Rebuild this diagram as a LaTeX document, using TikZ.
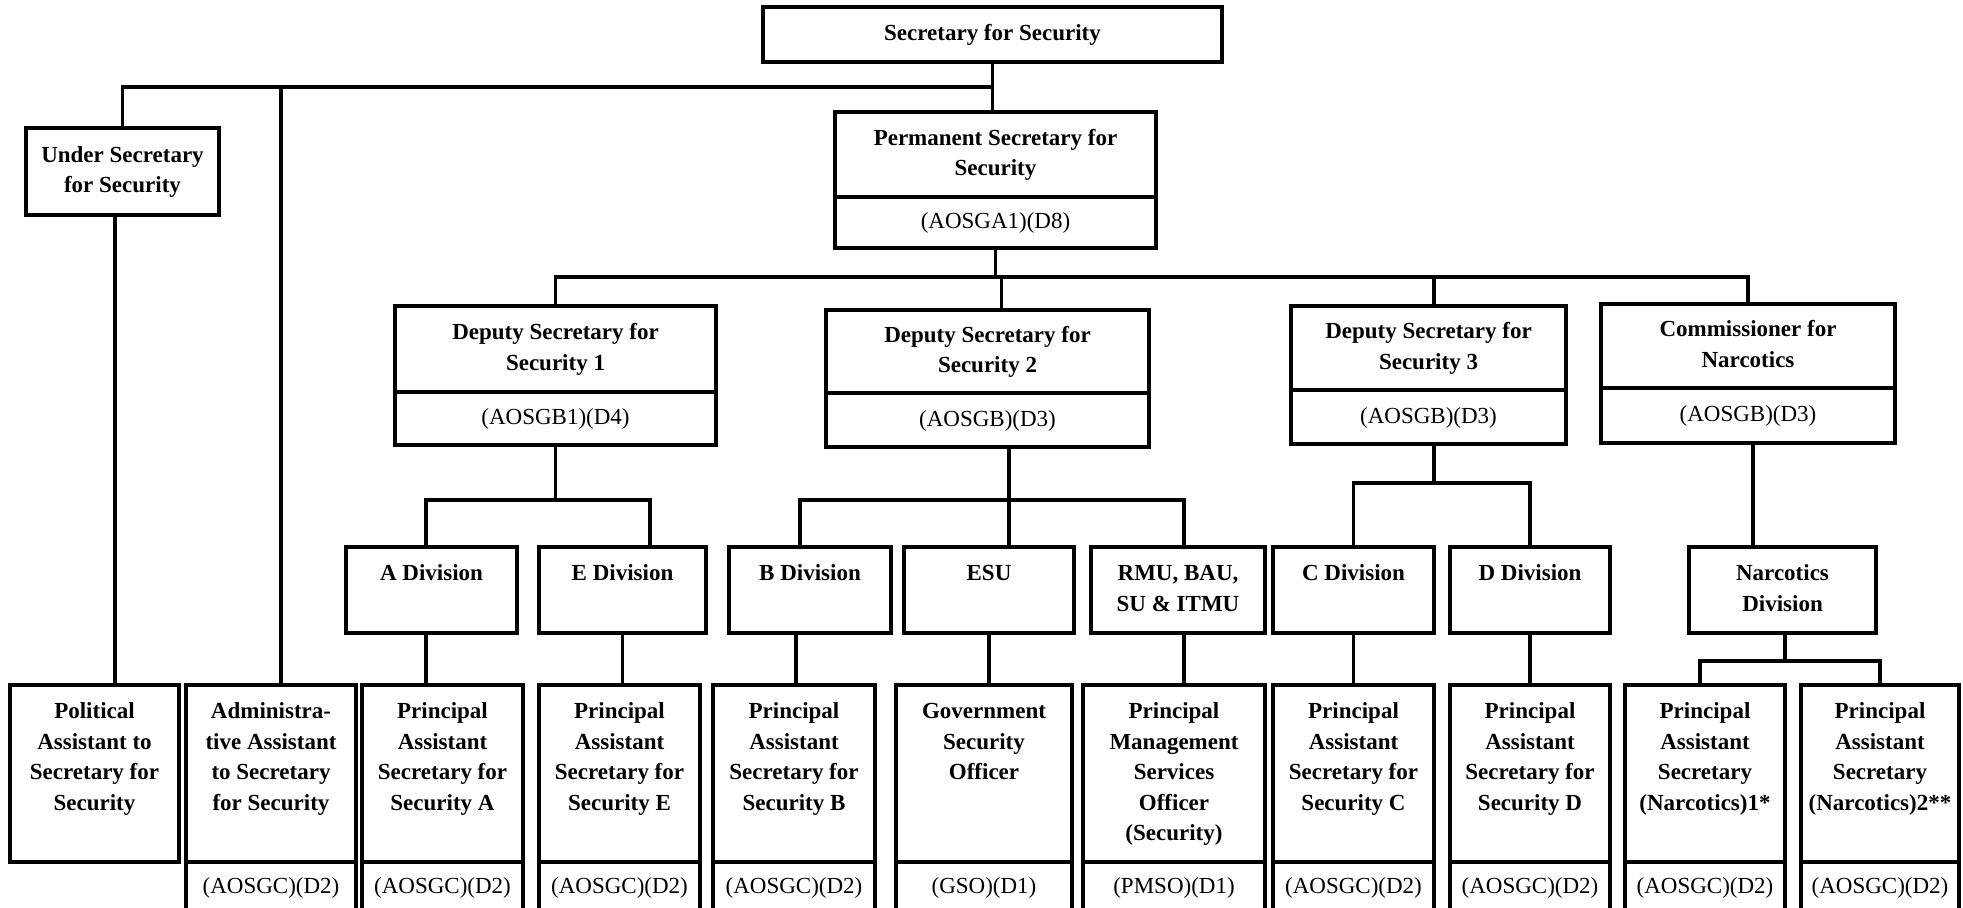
\documentclass[tikz,border=0pt]{standalone}
\usepackage{fontspec}
\setmainfont{Liberation Serif}
\begin{document}
\begin{tikzpicture}[x=0.5pt,y=-0.5pt,
  box/.style={draw, line width=2pt, rectangle, inner sep=0pt, align=center,
    font=\fontsize{11.5}{15.3}\selectfont\bfseries},
  codebox/.style={box, font=\fontsize{11.5}{15.3}\selectfont},
  conn/.style={line width=1.6pt}]
\clip (0,0) rectangle (1963,908);
\fill[white] (0,0) rectangle (1963,908);

% bus levels
\coordinate (yA) at (0,87);
\coordinate (yB) at (0,277);
\coordinate (yC) at (0,500);
\coordinate (yD) at (0,483);
\coordinate (yE) at (0,661);

% top
\node[box, minimum width=229.5pt, minimum height=27.5pt] (sec) at (992.5,34.5) {\strut Secretary for Security};
\node[box, minimum width=96.5pt, minimum height=43.5pt] (us) at (122.5,171.5) {\strut Under Secretary\\for Security\strut};
\node[box, minimum width=160.5pt, minimum height=42.5pt] (ps) at (995.5,154.5) {\strut Permanent Secretary for\\Security\strut};
\node[codebox, minimum width=160.5pt, minimum height=25.5pt] (psc) at (995.5,222.5) {\strut(AOSGA1)(D8)};

% second row
\node[box, minimum width=160.5pt, minimum height=43pt] (ds1) at (555.5,349) {\strut Deputy Secretary for\\Security 1\strut};
\node[codebox, minimum width=160.5pt, minimum height=26.5pt] (ds1c) at (555.5,418.5) {\strut(AOSGB1)(D4)};
\node[box, minimum width=161.5pt, minimum height=41.5pt] (ds2) at (987.5,351.5) {\strut Deputy Secretary for\\Security 2\strut};
\node[codebox, minimum width=161.5pt, minimum height=27pt] (ds2c) at (987.5,420) {\strut(AOSGB)(D3)};
\node[box, minimum width=137.5pt, minimum height=42pt] (ds3) at (1428.5,348) {\strut Deputy Secretary for\\Security 3\strut};
\node[codebox, minimum width=137.5pt, minimum height=27pt] (ds3c) at (1428.5,417) {\strut(AOSGB)(D3)};
\node[box, minimum width=147pt, minimum height=42pt] (com) at (1748,346) {\strut Commissioner for\\Narcotics\strut};
\node[codebox, minimum width=147pt, minimum height=27.5pt] (comc) at (1748,415.5) {\strut(AOSGB)(D3)};

% divisions
\node[box, minimum width=85.5pt, minimum height=43pt] (adiv) at (431.5,590) {\strut A Division\\\strut};
\node[box, minimum width=83.5pt, minimum height=43pt] (ediv) at (622.5,590) {\strut E Division\\\strut};
\node[box, minimum width=81pt, minimum height=43pt] (bdiv) at (810,590) {\strut B Division\\\strut};
\node[box, minimum width=85pt, minimum height=43pt] (esu) at (989,590) {\strut ESU\\\strut};
\node[box, minimum width=87pt, minimum height=43pt] (rmu) at (1178,590) {\strut RMU, BAU,\\SU \& ITMU\strut};
\node[box, minimum width=80.5pt, minimum height=43pt] (cdiv) at (1353.5,590) {\strut C Division\\\strut};
\node[box, minimum width=80pt, minimum height=43pt] (ddiv) at (1530,590) {\strut D Division\\\strut};
\node[box, minimum width=93.5pt, minimum height=43pt] (ndiv) at (1782.5,590) {\strut Narcotics\\Division\strut};

% bottom row
\node[box, minimum width=84.5pt, minimum height=88.5pt] (pol) at (94.5,773.5) {\strut Political\\Assistant to\\Secretary for\\Security\\\strut};
\node[box, minimum width=85pt, minimum height=88.5pt] (adm) at (271,773.5) {\strut Administra-\\tive Assistant\\to Secretary\\for Security\\\strut};
\node[codebox, minimum width=85pt, minimum height=25pt] (admc) at (271,887) {\strut(AOSGC)(D2)};
\node[box, minimum width=80.5pt, minimum height=88.5pt] (pasa) at (442.5,773.5) {\strut Principal\\Assistant\\Secretary for\\Security A\\\strut};
\node[codebox, minimum width=80.5pt, minimum height=25pt] (pasac) at (442.5,887) {\strut(AOSGC)(D2)};
\node[box, minimum width=80.5pt, minimum height=88.5pt] (pase) at (619.5,773.5) {\strut Principal\\Assistant\\Secretary for\\Security E\\\strut};
\node[codebox, minimum width=80.5pt, minimum height=25pt] (pasec) at (619.5,887) {\strut(AOSGC)(D2)};
\node[box, minimum width=81pt, minimum height=88.5pt] (pasb) at (794,773.5) {\strut Principal\\Assistant\\Secretary for\\Security B\\\strut};
\node[codebox, minimum width=81pt, minimum height=25pt] (pasbc) at (794,887) {\strut(AOSGC)(D2)};
\node[box, minimum width=88pt, minimum height=88.5pt] (gso) at (984,773.5) {\strut Government\\Security\\Officer\\\strut\\\strut};
\node[codebox, minimum width=88pt, minimum height=25pt] (gsoc) at (984,887) {\strut(GSO)(D1)};
\node[box, minimum width=91pt, minimum height=88.5pt] (pmso) at (1174,773.5) {\strut Principal\\Management\\Services\\Officer\\(Security)\strut};
\node[codebox, minimum width=91pt, minimum height=25pt] (pmsoc) at (1174,887) {\strut(PMSO)(D1)};
\node[box, minimum width=80.5pt, minimum height=88.5pt] (pasc) at (1353.5,773.5) {\strut Principal\\Assistant\\Secretary for\\Security C\\\strut};
\node[codebox, minimum width=80.5pt, minimum height=25pt] (pascc) at (1353.5,887) {\strut(AOSGC)(D2)};
\node[box, minimum width=80pt, minimum height=88.5pt] (pasd) at (1530,773.5) {\strut Principal\\Assistant\\Secretary for\\Security D\\\strut};
\node[codebox, minimum width=80pt, minimum height=25pt] (pasdc) at (1530,887) {\strut(AOSGC)(D2)};
\node[box, minimum width=80pt, minimum height=88.5pt] (pasn1) at (1705,773.5) {\strut Principal\\Assistant\\Secretary\\(Narcotics)1*\\\strut};
\node[codebox, minimum width=80pt, minimum height=25pt] (pasn1c) at (1705,887) {\strut(AOSGC)(D2)};
\node[box, minimum width=79pt, minimum height=88.5pt] (pasn2) at (1880,773.5) {\strut Principal\\Assistant\\Secretary\\(Narcotics)2**\\\strut};
\node[codebox, minimum width=79pt, minimum height=25pt] (pasn2c) at (1880,887) {\strut(AOSGC)(D2)};

% connectors
\draw[conn] (sec.south) -- (sec.south |- ps.north);
\draw[conn] (us.north) |- (sec.south |- yA);
\draw[conn] ([xshift=5pt]adm.north) -- ([xshift=5pt]adm.north |- yA);
\draw[conn] ([xshift=-3.75pt]us.south) -- ([xshift=-3.75pt]us.south |- pol.north);

\draw[conn] (psc.south) -- (psc.south |- yB);
\draw[conn] (ds1.north) |- (com.north |- yB) -- (com.north);
\draw[conn] ([xshift=7pt]ds2.north) -- ([xshift=7pt]ds2.north |- yB);
\draw[conn] ([xshift=2.75pt]ds3.north) -- ([xshift=2.75pt]ds3.north |- yB);

\draw[conn] (ds1c.south) -- (ds1c.south |- yC);
\draw[conn] ([xshift=-2.75pt]adiv.north) |- ([xshift=13.75pt]ediv.north |- yC) -- ([xshift=13.75pt]ediv.north);

\draw[conn] ([xshift=10.75pt]ds2c.south) -- ([xshift=10.75pt]ds2c.south |- esu.north);
\draw[conn] ([xshift=-5pt]bdiv.north) |- ([xshift=3pt]rmu.north |- yC) -- ([xshift=3pt]rmu.north);

\draw[conn] ([xshift=2.75pt]ds3c.south) -- ([xshift=2.75pt]ds3c.south |- yD);
\draw[conn] (cdiv.north) |- (ddiv.north |- yD) -- (ddiv.north);

\draw[conn] ([xshift=2.5pt]comc.south) -- ([xshift=2.5pt]comc.south |- ndiv.north);
\draw[conn] ([xshift=1.25pt]ndiv.south) -- ([xshift=1.25pt]ndiv.south |- yE);
\draw[conn] ([xshift=-2.5pt]pasn1.north) |- (pasn2.north |- yE) -- (pasn2.north);

\draw[conn] ([xshift=-2.75pt]adiv.south) -- ([xshift=-2.75pt]adiv.south |- pasa.north);
\draw[conn] (ediv.south) -- (ediv.south |- pase.north);
\draw[conn] ([xshift=-7pt]bdiv.south) -- ([xshift=-7pt]bdiv.south |- pasb.north);
\draw[conn] (esu.south) -- (esu.south |- gso.north);
\draw[conn] ([xshift=3pt]rmu.south) -- ([xshift=3pt]rmu.south |- pmso.north);
\draw[conn] (cdiv.south) -- (cdiv.south |- pasc.north);
\draw[conn] (ddiv.south) -- (ddiv.south |- pasd.north);
\end{tikzpicture}
\end{document}
